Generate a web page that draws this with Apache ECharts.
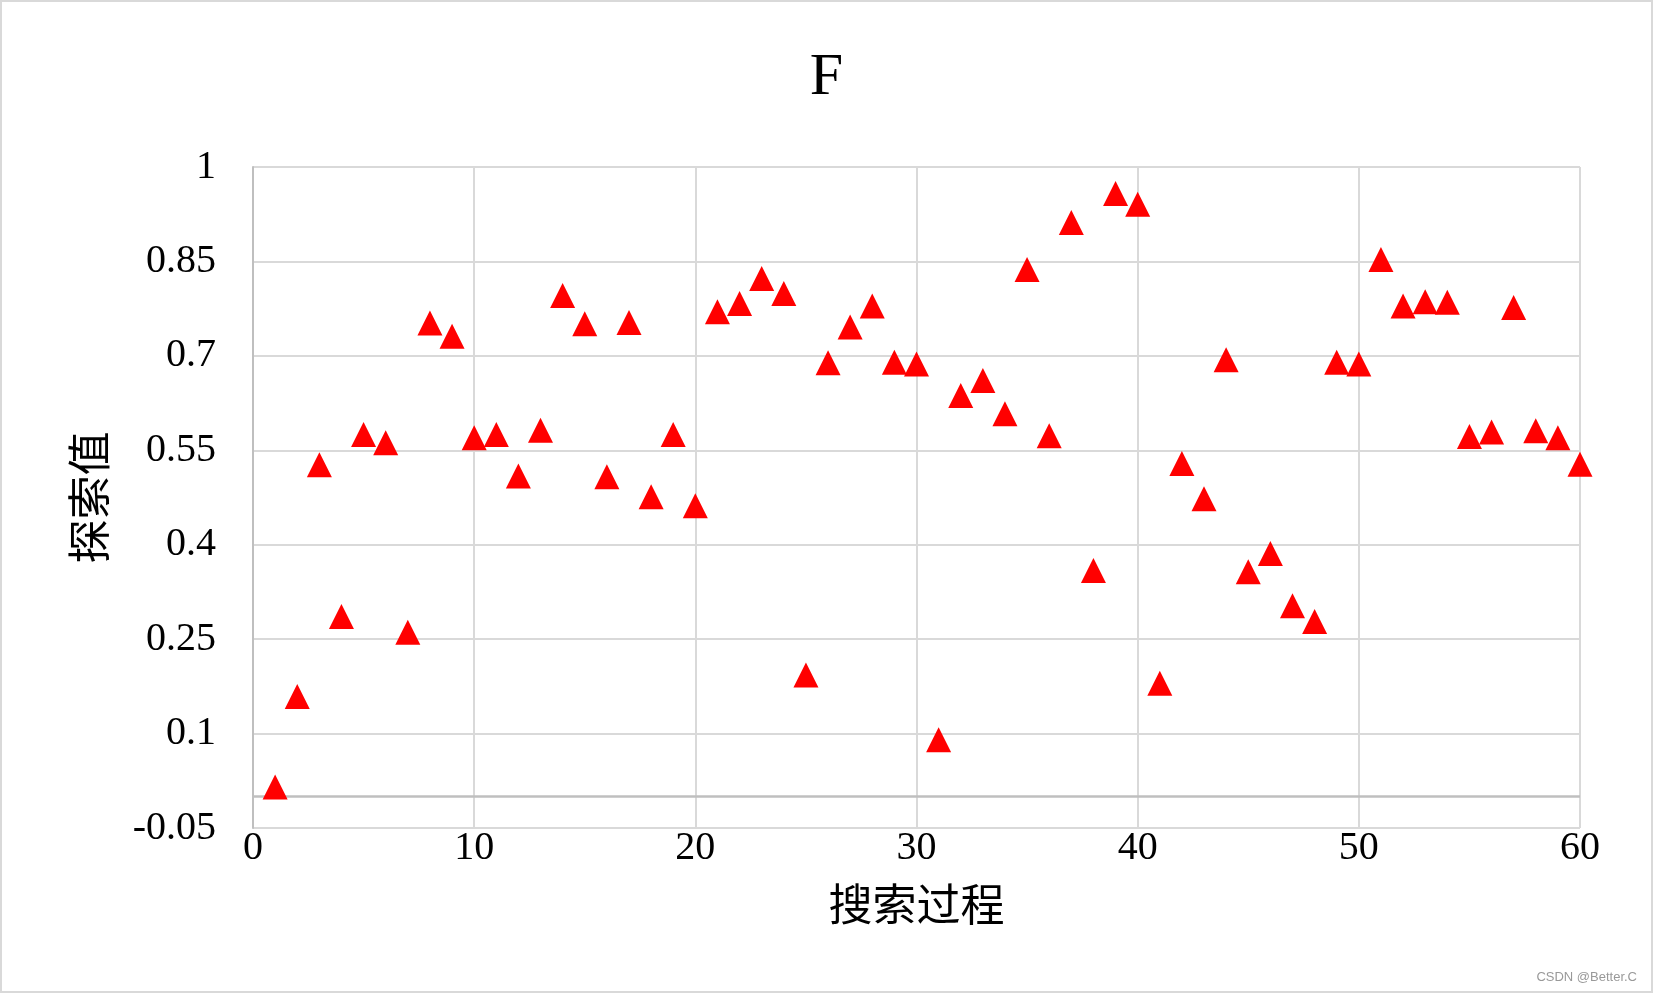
<!DOCTYPE html>
<html>
<head>
<meta charset="utf-8">
<script src="https://cdn.jsdelivr.net/npm/echarts@6/dist/echarts.min.js"></script>
<style>
html,body{margin:0;padding:0;background:#fff;}
#c{width:1653px;height:993px;}
</style>
</head>
<body>
<div id="c"></div>
<script>
// Search step (x) and search value (y)
const steps = [1,2,3,4,5,6,7,8,9,10,11,12,13,14,15,16,17,18,19,20,21,22,23,24,25,26,27,28,29,30,31,32,33,34,35,36,37,38,39,40,41,42,43,44,45,46,47,48,49,50,51,52,53,54,55,56,57,58,59,60];
const values = [0.015,0.159,0.527,0.286,0.575,0.562,0.261,0.752,0.731,0.570,
                0.575,0.509,0.582,0.796,0.751,0.508,0.753,0.476,0.575,0.462,
                0.770,0.783,0.823,0.799,0.193,0.689,0.746,0.779,0.690,0.687,
                0.090,0.637,0.661,0.608,0.837,0.573,0.912,0.359,0.958,0.941,
                0.180,0.529,0.473,0.694,0.357,0.386,0.303,0.278,0.690,0.687,
                0.853,0.779,0.786,0.785,0.572,0.579,0.777,0.581,0.570,0.528];
const titleText = 'F';
const xName = '搜索过程';
const yName = '探索值';

const points = steps.map((s, i) => [s, values[i]]);
const serif = '"Liberation Serif", "Times New Roman", serif';
const cjk = '"Noto Sans CJK SC", sans-serif';

const chart = echarts.init(document.getElementById('c'), null, {renderer: 'canvas'});
chart.setOption({
  backgroundColor: '#fff',
  animation: false,
  title: {
    text: titleText,
    left: 'center',
    top: 43,
    textStyle: {fontFamily: serif, fontSize: 60, fontWeight: 'normal', color: '#000'}
  },
  graphic: [
    {type: 'rect', shape: {x: 1, y: 1, width: 1651, height: 991},
     style: {fill: 'none', stroke: '#d9d9d9', lineWidth: 2}, silent: true},
    {type: 'text', right: 16, bottom: 9,
     style: {text: 'CSDN @Better.C', fill: '#999', font: '13px "Liberation Sans", Arial, sans-serif'}}
  ],
  grid: {left: 253, top: 167, right: 73, bottom: 165, containLabel: false},
  xAxis: {
    type: 'value', min: 0, max: 60, interval: 10,
    name: xName, nameLocation: 'middle', nameGap: 54,
    nameTextStyle: {fontFamily: cjk, fontSize: 44, color: '#000'},
    axisLine: {show: false, onZero: false},
    axisTick: {show: false},
    axisLabel: {fontFamily: serif, fontSize: 40, color: '#000', margin: 0},
    splitLine: {show: true, lineStyle: {color: '#d9d9d9', width: 2}}
  },
  yAxis: {
    type: 'value', min: -0.05, max: 1, interval: 0.15,
    name: yName, nameLocation: 'middle', nameGap: 142, nameRotate: 90,
    nameTextStyle: {fontFamily: cjk, fontSize: 44, color: '#000'},
    axisLine: {show: true, lineStyle: {color: '#bfbfbf', width: 2}},
    axisTick: {show: false},
    axisLabel: {fontFamily: serif, fontSize: 40, color: '#000', margin: 37,
      padding: [6, 0, 0, 0],
      formatter: v => String(parseFloat(v.toFixed(2)))},
    splitLine: {show: true, lineStyle: {color: '#d9d9d9', width: 2}}
  },
  series: [{
    type: 'scatter',
    data: points,
    symbol: 'triangle',
    symbolSize: [25, 25],
    itemStyle: {color: '#ff0000', opacity: 1},
    emphasis: {disabled: true},
    markLine: {
      silent: true, symbol: 'none', label: {show: false},
      lineStyle: {color: '#bfbfbf', width: 2.5, type: 'solid'},
      data: [{yAxis: 0}],
      z: 1
    },
    z: 3
  }]
});
</script>
</body>
</html>
